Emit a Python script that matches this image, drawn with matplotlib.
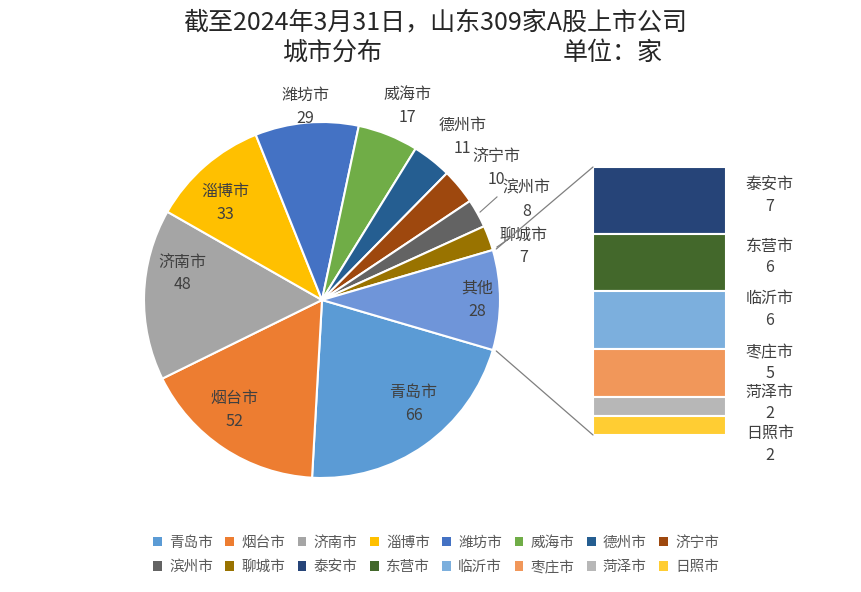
import matplotlib.pyplot as plt
from matplotlib.patches import ConnectionPatch, Patch
import numpy as np

plt.rcParams['font.family'] = ['Noto Sans CJK SC', 'DejaVu Sans']

# pie part (其他 = sum of the bar part)
pie_names = ['青岛市', '烟台市', '济南市', '淄博市', '潍坊市', '威海市',
             '德州市', '济宁市', '滨州市', '聊城市', '其他']
pie_values = [66, 52, 48, 33, 29, 17, 11, 10, 8, 7, 28]
pie_colors = ['#5B9BD5', '#ED7D31', '#A5A5A5', '#FFC000', '#4472C4', '#70AD47',
              '#255E91', '#9E480E', '#636363', '#997300', '#6F95D9']

# bar part
bar_names = ['泰安市', '东营市', '临沂市', '枣庄市', '菏泽市', '日照市']
bar_values = [7, 6, 6, 5, 2, 2]
bar_colors = ['#264478', '#43682B', '#7CAFDD', '#F1975A', '#B7B7B7', '#FFCD33']

W, H = 862, 592
fig = plt.figure(figsize=(W / 100, H / 100), dpi=100)
fig.patch.set_facecolor('white')


def px_axes(x0, y0, x1, y1):
    # pixel box (top-left origin) -> figure axes
    return fig.add_axes([x0 / W, 1 - y1 / H, (x1 - x0) / W, (y1 - y0) / H])


txt_color = '#404040'
lab_size = 11.5

# ---- pie
ax = px_axes(322 - 178, 300 - 178, 322 + 178, 300 + 178)
total = sum(pie_values)
start = -pie_values[-1] / total * 360 / 2
wedges, _ = ax.pie(pie_values, colors=pie_colors, startangle=start, counterclock=False,
                   radius=1, wedgeprops=dict(edgecolor='white', linewidth=1.5))
ax.set_xlim(-1, 1)
ax.set_ylim(-1, 1)
ax.set_aspect('equal')
ax.axis('off')

# label placement: (radius, angle shift from wedge middle)
label_pos = [(0.78, 6), (0.79, -5), (0.80, -9), (0.77, 4), (1.09, 0), (1.19, -2),
             (1.21, -2.5), (1.23, -2.5), (1.28, -3), (1.17, -5.5), (0.87, 0)]
for w, name, v, (r, sh) in zip(wedges, pie_names, pie_values, label_pos):
    mid = np.deg2rad((w.theta1 + w.theta2) / 2 + sh)
    ax.text(r * np.cos(mid), r * np.sin(mid), f'{name}\n{v}', ha='center', va='center',
            fontsize=lab_size, color=txt_color, linespacing=1.45)

# leader lines for the small slices
for p0, p1 in [((0.888, 0.494), (0.983, 0.579)), ((0.983, 0.298), (1.056, 0.348))]:
    ax.plot([p0[0], p1[0]], [p0[1], p1[1]], color='#7f7f7f', lw=0.8, clip_on=False)

# ---- bar of pie
bx = px_axes(593, 167, 726, 435)
cum = np.cumsum(bar_values)
bottoms = sum(bar_values) - cum
bars = bx.bar([0] * len(bar_values), bar_values, bottom=bottoms, width=1,
              color=bar_colors, edgecolor='white', linewidth=1.5)
bx.set_xlim(-0.5, 0.5)
bx.set_ylim(0, sum(bar_values))
bx.axis('off')

bar_label_shift = [0.5, 0.6, 1.1, 1.0, 0.35, -2.0]
for b, name, v, sh in zip(bars, bar_names, bar_values, bar_label_shift):
    yc = b.get_y() + b.get_height() / 2 + sh
    bx.text(0.83, yc, f'{name}\n{v}', ha='center', va='center', fontsize=lab_size,
            color=txt_color, linespacing=1.35, clip_on=False)

# connector lines
t1 = np.deg2rad(wedges[-1].theta1)
t2 = np.deg2rad(wedges[-1].theta2)
for ang, yb in [(max(t1, t2), 1), (min(t1, t2), 0)]:
    con = ConnectionPatch(xyA=(1.02 * np.cos(ang), 1.02 * np.sin(ang)), coordsA=ax.transData,
                          xyB=(0, yb), coordsB=bx.transAxes, color='#7f7f7f', lw=0.9)
    fig.add_artist(con)

# ---- titles
fig.text(435 / W, 1 - 22 / H, '截至2024年3月31日，山东309家A股上市公司', ha='center', va='center',
         fontsize=18, color='#262626')
fig.text(333 / W, 1 - 53 / H, '城市分布', ha='center', va='center', fontsize=18, color='#262626')
fig.text(613 / W, 1 - 53 / H, '单位：家', ha='center', va='center', fontsize=18, color='#262626')

# ---- legend (row-major order)
names = pie_names[:-1] + bar_names
colors = pie_colors[:-1] + bar_colors
handles = [Patch(facecolor=c, edgecolor='none', label=n) for n, c in zip(names, colors)]
order = [i for pair in zip(range(8), range(8, 16)) for i in pair]
fig.legend([handles[i] for i in order], [names[i] for i in order], ncol=8,
           loc='center', bbox_to_anchor=(436 / W, 1 - 555 / H), frameon=False,
           fontsize=10.5, labelcolor='#595959', handlelength=0.6, handleheight=0.6,
           handletextpad=0.5, columnspacing=0.85, labelspacing=0.7)

fig.savefig('out.png', dpi=100)
